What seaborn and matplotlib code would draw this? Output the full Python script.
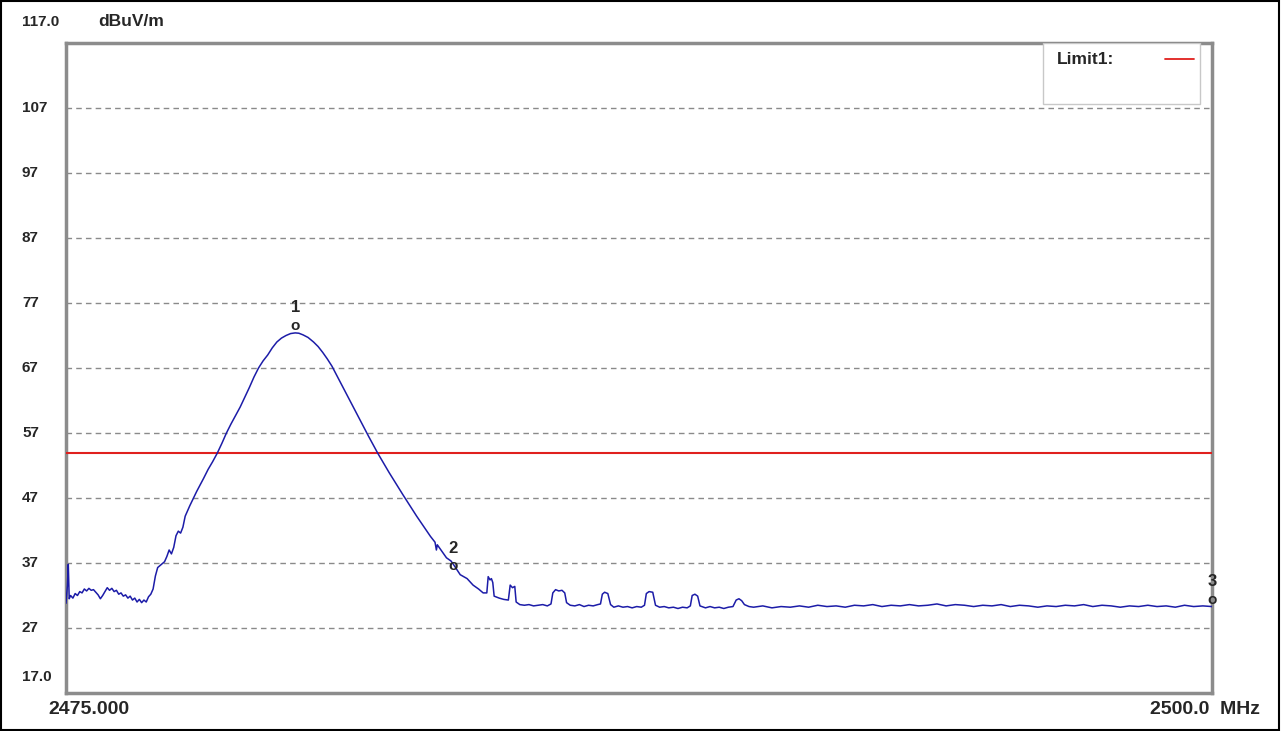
import matplotlib
matplotlib.use("Agg")
import matplotlib.pyplot as plt
from matplotlib.patches import Rectangle
from matplotlib.transforms import blended_transform_factory
import seaborn as sns
import pandas as pd

# sweep trace (MHz, dBuV/m)
sweep_mhz = [
    2475.00, 2475.03, 2475.05, 2475.07, 2475.10, 2475.15, 2475.20, 2475.25, 2475.30, 2475.35,
    2475.40, 2475.45, 2475.50, 2475.55, 2475.60, 2475.65, 2475.70, 2475.75, 2475.80, 2475.85,
    2475.90, 2475.95, 2476.00, 2476.05, 2476.10, 2476.15, 2476.20, 2476.25, 2476.30, 2476.35,
    2476.40, 2476.45, 2476.50, 2476.55, 2476.60, 2476.65, 2476.70, 2476.75, 2476.80, 2476.85,
    2476.90, 2476.95, 2477.00, 2477.05, 2477.10, 2477.15, 2477.20, 2477.25, 2477.30, 2477.35,
    2477.40, 2477.45, 2477.50, 2477.55, 2477.60, 2477.70, 2477.85, 2478.00, 2478.10, 2478.20,
    2478.30, 2478.40, 2478.50, 2478.60, 2478.70, 2478.80, 2478.90, 2479.00, 2479.10, 2479.20,
    2479.30, 2479.40, 2479.50, 2479.60, 2479.70, 2479.80, 2479.90, 2480.00, 2480.08, 2480.17,
    2480.28, 2480.40, 2480.50, 2480.60, 2480.70, 2480.80, 2481.00, 2481.20, 2481.40, 2481.60,
    2481.80, 2482.05, 2482.35, 2482.65, 2482.95, 2483.05, 2483.08, 2483.10, 2483.30, 2483.40,
    2483.45, 2483.60, 2483.75, 2483.88, 2484.00, 2484.10, 2484.18, 2484.21, 2484.25, 2484.28,
    2484.31, 2484.34, 2484.45, 2484.55, 2484.65, 2484.69, 2484.74, 2484.79, 2484.82, 2484.90,
    2485.00, 2485.10, 2485.20, 2485.30, 2485.40, 2485.50,
    2485.58, 2485.62, 2485.68, 2485.75, 2485.82, 2485.88, 2485.92, 2486.00, 2486.10, 2486.20,
    2486.30, 2486.40, 2486.50, 2486.60, 2486.66, 2486.70, 2486.75, 2486.82, 2486.88, 2486.95,
    2487.05, 2487.15, 2487.25, 2487.35, 2487.45, 2487.55, 2487.62, 2487.66, 2487.72, 2487.80,
    2487.86, 2487.95, 2488.05, 2488.15, 2488.25, 2488.35, 2488.45, 2488.55, 2488.62, 2488.66,
    2488.72, 2488.78, 2488.83, 2488.95, 2489.05, 2489.15, 2489.25, 2489.35, 2489.45, 2489.55,
    2489.62, 2489.68, 2489.74, 2489.80, 2489.90, 2490.00, 2490.20, 2490.40, 2490.60, 2490.80,
    2491.00, 2491.20, 2491.40, 2491.60, 2491.80, 2492.00, 2492.20, 2492.40, 2492.60, 2492.80,
    2493.00, 2493.20, 2493.40, 2493.60, 2493.80, 2494.00, 2494.20, 2494.40, 2494.60, 2494.80,
    2495.00, 2495.20, 2495.40, 2495.60, 2495.80, 2496.00, 2496.20, 2496.40, 2496.60, 2496.80,
    2497.00, 2497.20, 2497.40, 2497.60, 2497.80, 2498.00, 2498.20, 2498.40, 2498.60, 2498.80,
    2499.00, 2499.20, 2499.40, 2499.60, 2499.80, 2500.00,
]
level_dbuv = [
    30.8, 33.5, 36.8, 31.5, 32.0, 31.6, 32.3, 32.0, 32.6, 32.4,
    33.0, 32.7, 33.1, 32.8, 32.9, 32.5, 32.1, 31.5, 32.0, 32.6,
    33.2, 32.8, 33.1, 32.6, 32.8, 32.2, 32.4, 31.9, 32.1, 31.6,
    31.9, 31.3, 31.6, 31.0, 31.4, 30.9, 31.3, 31.0, 31.8, 32.2,
    33.0, 35.0, 36.3, 36.6, 36.9, 37.2, 38.0, 39.0, 38.4, 39.4,
    41.2, 41.9, 41.6, 42.5, 44.2, 45.8, 48.0, 50.0, 51.4, 52.6,
    53.9, 55.4, 57.0, 58.4, 59.7, 61.0, 62.5, 64.0, 65.6, 67.0,
    68.1, 69.0, 70.1, 71.0, 71.6, 72.0, 72.3, 72.4, 72.35, 72.1,
    71.7, 71.0, 70.3, 69.4, 68.4, 67.3, 64.6, 61.9, 59.2, 56.5,
    53.9, 50.9, 47.5, 44.2, 41.1, 40.2, 39.0, 39.8, 37.8, 37.3,
    36.8, 35.2, 34.6, 33.6, 33.0, 32.4, 32.4, 34.9, 34.4, 34.6,
    34.0, 31.9, 31.6, 31.4, 31.3, 33.6, 33.2, 33.4, 31.0, 30.6,
    30.5, 30.6, 30.4, 30.5, 30.6, 30.4,
    30.7, 32.4, 32.9, 32.7, 32.8, 32.4, 30.9, 30.5, 30.4, 30.6,
    30.3, 30.5, 30.4, 30.6, 30.7, 32.2, 32.5, 32.3, 30.6, 30.2,
    30.4, 30.2, 30.3, 30.1, 30.3, 30.2, 30.5, 32.3, 32.6, 32.5,
    30.5, 30.2, 30.3, 30.1, 30.2, 30.0, 30.2, 30.1, 30.4, 32.0,
    32.2, 31.9, 30.4, 30.1, 30.3, 30.1, 30.2, 30.0, 30.2, 30.3,
    31.3, 31.5, 31.2, 30.6, 30.3, 30.2, 30.4, 30.1, 30.3, 30.2,
    30.4, 30.2, 30.5, 30.3, 30.4, 30.2, 30.5, 30.4, 30.6, 30.3,
    30.5, 30.4, 30.6, 30.4, 30.5, 30.7, 30.4, 30.6, 30.5, 30.3,
    30.5, 30.4, 30.6, 30.3, 30.5, 30.4, 30.2, 30.4, 30.3, 30.5,
    30.4, 30.6, 30.3, 30.5, 30.4, 30.2, 30.4, 30.3, 30.5, 30.3,
    30.4, 30.2, 30.5, 30.3, 30.4, 30.3,
]

limit1_dbuv = 54.0
grid_levels = [107, 97, 87, 77, 67, 57, 47, 37, 27]
grid_labels = ["107", "97", "87", "77", "67", "57", "47", "37", "27"]

marker_ids = ["1", "2", "3"]
marker_mhz = [2480.00, 2483.45, 2500.00]
marker_dbuv = [72.4, 35.4, 30.3]

f_start, f_stop = 2475.0, 2500.0
y_min, y_max = 17.0, 117.0

sns.set_style("white")
plt.rcParams["font.family"] = ["Liberation Sans", "DejaVu Sans"]
plt.rcParams["font.weight"] = "bold"

W, H = 1282, 731
fig = plt.figure(figsize=(W / 100, H / 100), dpi=100)
ax = fig.add_axes([66 / W, 1 - 693 / H, 1146 / W, 650 / H])

df = pd.DataFrame({"MHz": sweep_mhz, "dBuV/m": level_dbuv})
sns.lineplot(data=df, x="MHz", y="dBuV/m", ax=ax, color="#1c1ca8", lw=1.1,
             estimator=None, sort=False, zorder=4)
ax.axhline(limit1_dbuv, color="#e0201e", lw=1.5, zorder=3)

ax.set_xlim(f_start, f_stop)
ax.set_ylim(y_min, y_max)
ax.set_xticks([])
ax.set_yticks([])
ax.set_xlabel("")
ax.set_ylabel("")
for lv in grid_levels:
    ax.axhline(lv, color="#8a8a8a", lw=1.0, ls=(0, (4, 3)), zorder=1)
for sp in ax.spines.values():
    sp.set_color("#8c8c8c")
    sp.set_linewidth(2.5)

# y labels at the gridlines
ylab_tr = blended_transform_factory(fig.transFigure, ax.transData)
for lv, lab in zip(grid_levels, grid_labels):
    ax.text(22 / W, lv, lab, transform=ylab_tr, ha="left", va="center",
            fontsize=11, fontweight="bold")
fig.text(22 / W, 1 - 22 / H, "117.0", ha="left", va="center", fontsize=11, fontweight="bold")
fig.text(98 / W, 1 - 22 / H, "dBuV/m", ha="left", va="center", fontsize=12.5, fontweight="bold")
fig.text(22 / W, 1 - 677 / H, "17.0", ha="left", va="center", fontsize=11, fontweight="bold")
fig.text(48 / W, 1 - 710 / H, "2475.000", ha="left", va="center", fontsize=14, fontweight="bold")
fig.text(1150 / W, 1 - 710 / H, "2500.0  MHz", ha="left", va="center", fontsize=14, fontweight="bold")

# markers
for mid, mx, my in zip(marker_ids, marker_mhz, marker_dbuv):
    ax.annotate("o", (mx, my), xytext=(0, 5), textcoords="offset points",
                ha="center", va="center", fontsize=11, fontweight="bold", zorder=5)
    ax.annotate(mid, (mx, my), xytext=(0, 18), textcoords="offset points",
                ha="center", va="center", fontsize=12, fontweight="bold", zorder=5)

# limit legend box
x0 = (1043 - 66) / 1146
x1 = (1200 - 66) / 1146
yb = (693 - 104) / 650
ax.add_patch(Rectangle((x0, yb), x1 - x0, 1 - yb, transform=ax.transAxes,
                       fill=True, facecolor="white", edgecolor="#c8c8c8", lw=1, zorder=6))
ly = (693 - 59) / 650
ax.text((1057 - 66) / 1146, ly, "Limit1:", transform=ax.transAxes, ha="left", va="center",
        fontsize=12.5, fontweight="bold", zorder=7)
ax.plot([(1165 - 66) / 1146, (1194 - 66) / 1146], [ly, ly], transform=ax.transAxes,
        color="#e0201e", lw=1.3, zorder=7)

# outer frame
fig.patches.append(Rectangle((0.001, 0.001), 0.997, 0.997, transform=fig.transFigure,
                             fill=False, edgecolor="black", lw=1.5))

fig.savefig("out.png", dpi=100)
